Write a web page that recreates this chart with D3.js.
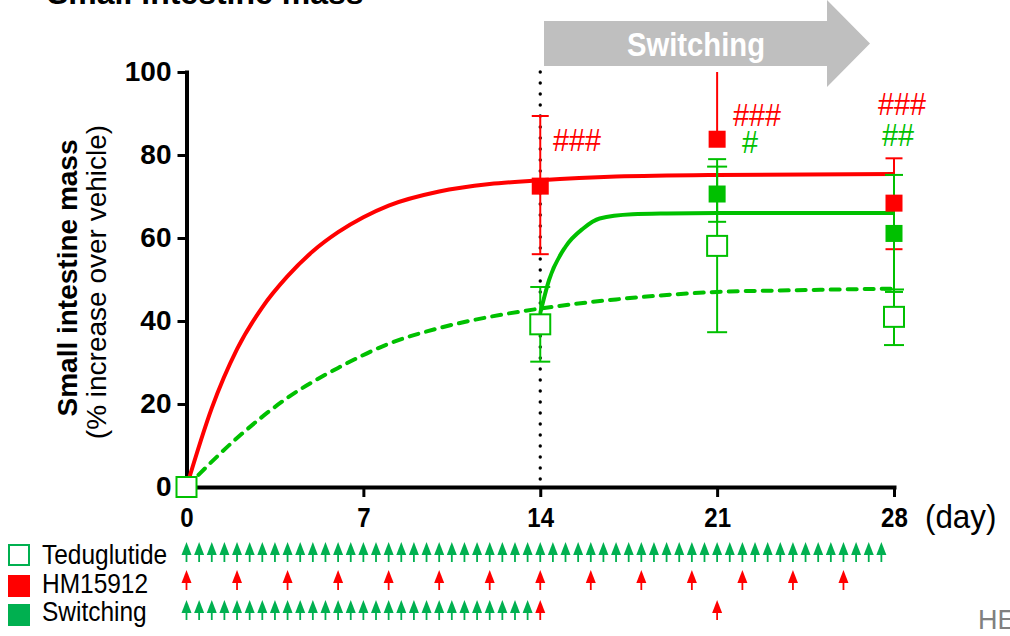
<!DOCTYPE html>
<html>
<head>
<meta charset="utf-8">
<script src="https://cdn.jsdelivr.net/npm/d3@7"></script>
<style>
  body { margin: 0; background: #fff; }
  svg { display: block; font-family: Arial, "Liberation Sans", sans-serif; }
</style>
</head>
<body>
<svg id="chart" width="1010" height="636"></svg>
<script>
// measured days (x) and group means / error limits (% increase over vehicle)
var measureDays = [0, 14, 21, 28];
var tedMean = [0, 39.2, 58.1, 41.0];
var tedLow = [0, 30.2, 37.3, 34.2];
var tedHigh = [0, 48.2, 77.2, 47.6];
var hmMean = [0, 72.5, 83.8, 68.4];
var hmLow = [0, 56.1, 83.8, 57.3];
var hmHigh = [0, 89.4, 100, 79.2];
var swDays = [21, 28];
var swMean = [70.6, 61.1];
var swLow = [63.9, 47.0];
var swHigh = [79.0, 75.2];

// fitted curves
var hmFitDays = [0, 1, 2, 3, 4, 5, 6, 7, 8, 10, 12, 14, 17, 21, 28];
var hmFitVals = [0, 19, 33.2, 43.3, 50.8, 56.8, 61.4, 65, 67.8, 71.2, 73, 73.9, 74.8, 75.2, 75.4];
var tedFitDays = [0, 2, 4, 6, 8, 10, 12, 14, 17, 21, 24, 28];
var tedFitVals = [0, 11.8, 21.5, 28.7, 34.5, 38.3, 41, 43, 45.2, 47, 47.4, 47.8];
var swFitDays = [14, 14.35, 15, 15.7, 16.35, 17.65, 19, 21, 28];
var swFitVals = [41.9, 49.9, 57.9, 62.3, 64.7, 65.7, 65.9, 66, 66];

// dosing schedule (days)
var tedDoses = [0, 0.5, 1, 1.5, 2, 2.5, 3, 3.5, 4, 4.5, 5, 5.5, 6, 6.5, 7, 7.5, 8, 8.5, 9, 9.5, 10, 10.5, 11, 11.5, 12, 12.5, 13, 13.5,
                14, 14.5, 15, 15.5, 16, 16.5, 17, 17.5, 18, 18.5, 19, 19.5, 20, 20.5, 21, 21.5, 22, 22.5, 23, 23.5, 24, 24.5, 25, 25.5, 26, 26.5, 27, 27.5];
var hmDoses = [0, 2, 4, 6, 8, 10, 12, 14, 16, 18, 20, 22, 24, 26];
var swTedDoses = [0, 0.5, 1, 1.5, 2, 2.5, 3, 3.5, 4, 4.5, 5, 5.5, 6, 6.5, 7, 7.5, 8, 8.5, 9, 9.5, 10, 10.5, 11, 11.5, 12, 12.5, 13, 13.5];
var swHmDoses = [14, 21];

var xTicks = [0, 7, 14, 21, 28];
var yTicks = [0, 20, 40, 60, 80, 100];
var legendLabels = ["Teduglutide", "HM15912", "Switching"];

var red = "#ff0000", green = "#00c000", legendGreen = "#00b050";

var svg = d3.select("#chart");
svg.append("rect").attr("width", 1010).attr("height", 636).attr("fill", "#fff");

var x = d3.scaleLinear().domain([0, 28]).range([186.5, 894]);
var y = d3.scaleLinear().domain([0, 100]).range([487, 72]);

// title (cut off at top)
svg.append("text")
    .attr("x", 47).attr("y", 4)
    .style("font-size", "32px").style("font-weight", "bold")
    .text("Small intestine mass");

// switching banner arrow
svg.append("path")
    .attr("d", "M544,21H827V0L870,43.5L827,87V66H544Z")
    .attr("fill", "#bfbfbf");
svg.append("text")
    .attr("transform", "translate(696,56) scale(0.86,1)")
    .attr("text-anchor", "middle")
    .attr("fill", "#fff")
    .style("font-size", "34px").style("font-weight", "bold")
    .text("Switching");

// y axis label
svg.append("text")
    .attr("transform", "translate(77,278) rotate(-90)")
    .attr("text-anchor", "middle")
    .style("font-size", "28px").style("font-weight", "bold")
    .text("Small intestine mass");
svg.append("text")
    .attr("transform", "translate(106,282) rotate(-90)")
    .attr("text-anchor", "middle")
    .style("font-size", "28px")
    .text("(% increase over vehicle)");

// dotted switch line at day 14
svg.append("line")
    .attr("x1", x(14)).attr("x2", x(14))
    .attr("y1", y(100)).attr("y2", y(0))
    .attr("stroke", "#000").attr("stroke-width", 3.4)
    .attr("stroke-linecap", "round")
    .attr("stroke-dasharray", "0,11");

// axes
var xAxis = svg.append("g")
    .attr("transform", "translate(0," + y(0) + ")")
    .call(d3.axisBottom(x).tickValues(xTicks).tickSize(10).tickSizeOuter(0).tickPadding(10));
var yAxis = svg.append("g")
    .attr("transform", "translate(" + x(0) + ",0)")
    .call(d3.axisLeft(y).tickValues(yTicks).tickSize(9).tickSizeOuter(0).tickPadding(6));

[xAxis, yAxis].forEach(function (g) {
    g.select(".domain").attr("stroke", "#000").attr("stroke-width", 4).attr("stroke-linecap", "square");
    g.selectAll(".tick line").attr("stroke", "#000").attr("stroke-width", 3);
    g.selectAll(".tick text").attr("fill", "#000").style("font-weight", "bold").style("font-family", "Arial, 'Liberation Sans', sans-serif");
});
xAxis.selectAll(".tick text").style("font-size", "28px").attr("transform", "scale(0.86,1)");
yAxis.selectAll(".tick text").style("font-size", "28px");

svg.append("text")
    .attr("transform", "translate(925,528) scale(0.95,1)")
    .style("font-size", "33px")
    .text("(day)");

// fitted curves
var line = d3.line().curve(d3.curveMonotoneX)
    .x(function (d) { return x(d[0]); })
    .y(function (d) { return y(d[1]); });

svg.append("path")
    .datum(d3.zip(tedFitDays, tedFitVals))
    .attr("d", line).attr("fill", "none")
    .attr("stroke", green).attr("stroke-width", 4)
    .attr("stroke-linecap", "round")
    .attr("stroke-dasharray", "9,8");
svg.append("path")
    .datum(d3.zip(hmFitDays, hmFitVals))
    .attr("d", line).attr("fill", "none")
    .attr("stroke", red).attr("stroke-width", 4);
svg.append("path")
    .datum(d3.zip(swFitDays, swFitVals))
    .attr("d", line).attr("fill", "none")
    .attr("stroke", green).attr("stroke-width", 4);

// error bars
function errorBars(days, lows, highs, color, capW) {
    var g = svg.append("g").attr("stroke", color).attr("stroke-width", 2);
    days.forEach(function (d, i) {
        if (d === 0) return;
        var cx = x(d);
        g.append("line").attr("x1", cx).attr("x2", cx).attr("y1", y(lows[i])).attr("y2", y(highs[i]));
        if (highs[i] < 100) {
            g.append("line").attr("x1", cx - capW / 2).attr("x2", cx + capW / 2).attr("y1", y(highs[i])).attr("y2", y(highs[i]));
        }
        if (lows[i] < highs[i] && lows[i] !== 83.8) {
            g.append("line").attr("x1", cx - capW / 2).attr("x2", cx + capW / 2).attr("y1", y(lows[i])).attr("y2", y(lows[i]));
        }
    });
}
errorBars(measureDays, hmLow, hmHigh, red, 17);
errorBars(measureDays, tedLow, tedHigh, green, 20);
errorBars(swDays, swLow, swHigh, green, 18);

// markers
function squares(days, vals, color, size, open) {
    svg.append("g").selectAll("rect")
        .data(d3.zip(days, vals))
        .enter().append("rect")
        .attr("x", function (d) { return x(d[0]) - size / 2; })
        .attr("y", function (d) { return y(d[1]) - size / 2; })
        .attr("width", size).attr("height", size)
        .attr("fill", open ? "#fff" : color)
        .attr("stroke", open ? color : "none")
        .attr("stroke-width", 2);
}
squares(measureDays.slice(1), hmMean.slice(1), red, 17, false);
squares(swDays, swMean, green, 17, false);
squares(measureDays, tedMean, green, 20, true);

// significance marks
function mark(txt, px, py, color) {
    svg.append("text")
        .attr("transform", "translate(" + px + "," + py + ") scale(0.9,1)")
        .attr("fill", color)
        .style("font-size", "32px")
        .text(txt);
}
mark("###", 553, 151, red);
mark("###", 733, 126, red);
mark("#", 742, 153, green);
mark("###", 878, 115, red);
mark("##", 882, 146, green);

// dosing arrows
function doseRow(days, top, color) {
    var g = svg.append("g");
    days.forEach(function (d) {
        var cx = x(d);
        g.append("line").attr("x1", cx).attr("x2", cx).attr("y1", top + 8).attr("y2", top + 20)
            .attr("stroke", color).attr("stroke-width", 1.8);
        g.append("path")
            .attr("d", "M" + (cx - 5) + "," + (top + 13) + "L" + cx + "," + top + "L" + (cx + 5) + "," + (top + 13) + "Z")
            .attr("fill", color);
    });
}
doseRow(tedDoses, 542, legendGreen);
doseRow(hmDoses, 570, red);
doseRow(swTedDoses, 600, legendGreen);
doseRow(swHmDoses, 600, red);

// legend
var legendY = [544, 575, 604];
var legendBase = [564, 593, 621];
legendLabels.forEach(function (lab, i) {
    var open = i === 0;
    svg.append("rect")
        .attr("x", open ? 9 : 8).attr("y", legendY[i] + (open ? 1 : 0))
        .attr("width", open ? 20 : 22).attr("height", open ? 20 : 22)
        .attr("fill", open ? "#fff" : (i === 1 ? red : legendGreen))
        .attr("stroke", open ? legendGreen : "none")
        .attr("stroke-width", 2);
    svg.append("text")
        .attr("transform", "translate(42," + legendBase[i] + ") scale(0.89,1)")
        .style("font-size", "27.5px")
        .text(lab);
});

// cut-off text bottom right
svg.append("text")
    .attr("x", 978).attr("y", 629)
    .attr("fill", "#808080")
    .style("font-size", "27px")
    .text("HE");
</script>
</body>
</html>
